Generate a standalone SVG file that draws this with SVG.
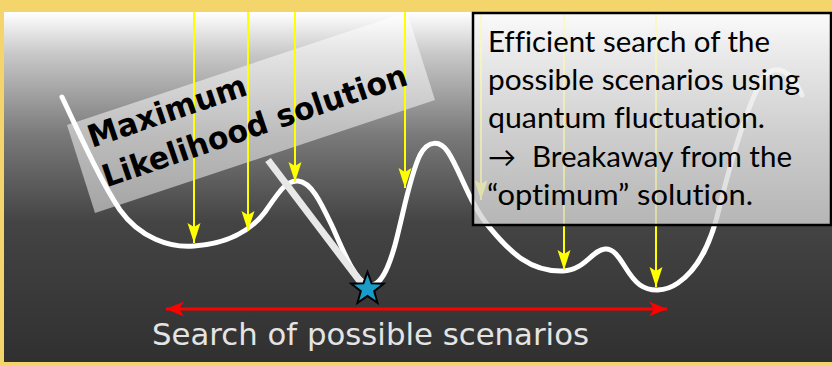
<svg xmlns="http://www.w3.org/2000/svg" width="832" height="366" viewBox="0 0 832 366">
  <defs>
    <linearGradient id="panelGrad" x1="0" y1="12" x2="0" y2="362" gradientUnits="userSpaceOnUse">
      <stop offset="0" stop-color="#ffffff"/>
      <stop offset="0.12" stop-color="#c8c8c8"/>
      <stop offset="0.35" stop-color="#7a7a7a"/>
      <stop offset="0.6" stop-color="#444444"/>
      <stop offset="1" stop-color="#303030"/>
    </linearGradient>
    <linearGradient id="boxGrad" x1="0" y1="0" x2="0" y2="1">
      <stop offset="0" stop-color="#fafafa"/>
      <stop offset="1" stop-color="#d2d2d2"/>
    </linearGradient>
    <marker id="yArrow" viewBox="0 -7 20 14" refX="20" refY="0" markerWidth="20" markerHeight="14" markerUnits="userSpaceOnUse" orient="auto">
      <path d="M0,-6.5 L20,0 L0,6.5 L4,0 z" fill="#ffff00"/>
    </marker>
    <marker id="rArrow" viewBox="0 -8 18 16" refX="18" refY="0" markerWidth="18" markerHeight="16" markerUnits="userSpaceOnUse" orient="auto-start-reverse">
      <path d="M0,-7.5 L18,0 L0,7.5 L5,0 z" fill="#ff0000"/>
    </marker>
    <style>
      .yline { stroke: #ffff00; stroke-width: 2; fill: none; marker-end: url(#yArrow); }
      .curve { stroke: #ffffff; stroke-width: 5; fill: none; stroke-linecap: round; stroke-linejoin: round; }
      .lbl { font-family: "DejaVu Sans", Verdana, sans-serif; font-weight: bold; font-size: 31px; fill: #000000; }
      .boxtxt { font-family: Lato, "Open Sans", "DejaVu Sans", sans-serif; font-size: 28px; fill: #000000; font-variant-ligatures: none; }
      .axis { font-family: "DejaVu Sans", Verdana, sans-serif; font-size: 31px; fill: #e4e4e4; }
    </style>
  </defs>

  <rect x="0" y="0" width="832" height="366" fill="#f4d56b"/>
  <rect id="panel" x="4" y="12" width="828" height="350" fill="url(#panelGrad)"/>

  <g id="landscape">
    <path class="curve" d="M 62,97 C 80,135 100,180 120,210 C 140,238 170,248 194,246 C 225,244 250,232 265,212 C 280,190 287,180 298,181 C 312,182 322,205 333,228 C 345,255 355,280 368,285 C 380,288 388,270 395,245 C 403,215 410,175 420,155 C 428,140 440,140 448,152 C 460,170 470,205 490,228 C 510,252 530,272 563,271 C 585,270 592,250 605,249 C 620,248 625,275 640,285 C 650,292 665,292 678,283 C 700,268 712,240 720,205 C 730,165 745,110 762,80 C 772,64 788,65 802,95"/>
  </g>

  <g id="ml-label">
    <polygon points="67,125 407,12 435,100 95,213" fill="#ffffff" fill-opacity="0.5"/>
  </g>

  <g id="connectors">
    <line class="yline" x1="194" y1="12" x2="194" y2="243"/>
    <line class="yline" x1="248" y1="12" x2="248" y2="231"/>
    <line class="yline" x1="295" y1="12" x2="295" y2="182"/>
    <line class="yline" x1="405" y1="12" x2="405" y2="188"/>
    <line class="yline" x1="481" y1="12" x2="481" y2="200"/>
    <line class="yline" x1="564" y1="12" x2="564" y2="270"/>
    <line class="yline" x1="656" y1="12" x2="656" y2="287"/>
  </g>

  <g id="ml-text" transform="translate(92,148) rotate(-18.8)">
    <text class="lbl" x="0" y="0" textLength="166" lengthAdjust="spacingAndGlyphs">Maximum</text>
    <text class="lbl" x="1" y="42" textLength="320" lengthAdjust="spacingAndGlyphs">Likelihood solution</text>
  </g>

  <g id="pointer">
    <line x1="268" y1="160" x2="362" y2="284" stroke="#e8e8e8" stroke-width="7"/>
  </g>

  <g id="star">
    <polygon points="367.5,272 371.6,283.3 383.7,283.7 374.2,291.2 377.5,302.8 367.5,296 357.5,302.8 360.8,291.2 351.3,283.7 363.4,283.3" fill="#1a9cc8" stroke="#000000" stroke-width="2" stroke-linejoin="miter"/>
  </g>

  <g id="info-box">
    <rect x="473" y="13" width="358" height="212" fill="url(#boxGrad)" fill-opacity="0.8" stroke="#000000" stroke-width="2.5"/>
    <text class="boxtxt" x="488" y="52" textLength="282" lengthAdjust="spacingAndGlyphs">Efficient search of the</text>
    <text class="boxtxt" x="488" y="90" textLength="312" lengthAdjust="spacingAndGlyphs">possible scenarios using</text>
    <text class="boxtxt" x="488" y="128" textLength="277" lengthAdjust="spacingAndGlyphs">quantum fluctuation.</text>
    <text class="boxtxt" y="167"><tspan x="488">→</tspan><tspan x="532" textLength="260" lengthAdjust="spacingAndGlyphs">Breakaway from the</tspan></text>
    <text class="boxtxt" x="487" y="205" textLength="266" lengthAdjust="spacingAndGlyphs">“optimum” solution.</text>
  </g>

  <g id="range-arrow">
    <line x1="166" y1="309" x2="667" y2="309" stroke="#ff0000" stroke-width="3" marker-start="url(#rArrow)" marker-end="url(#rArrow)"/>
  </g>

  <g id="axis-label">
    <text class="axis" x="152" y="345" textLength="437" lengthAdjust="spacingAndGlyphs">Search of possible scenarios</text>
  </g>
</svg>
